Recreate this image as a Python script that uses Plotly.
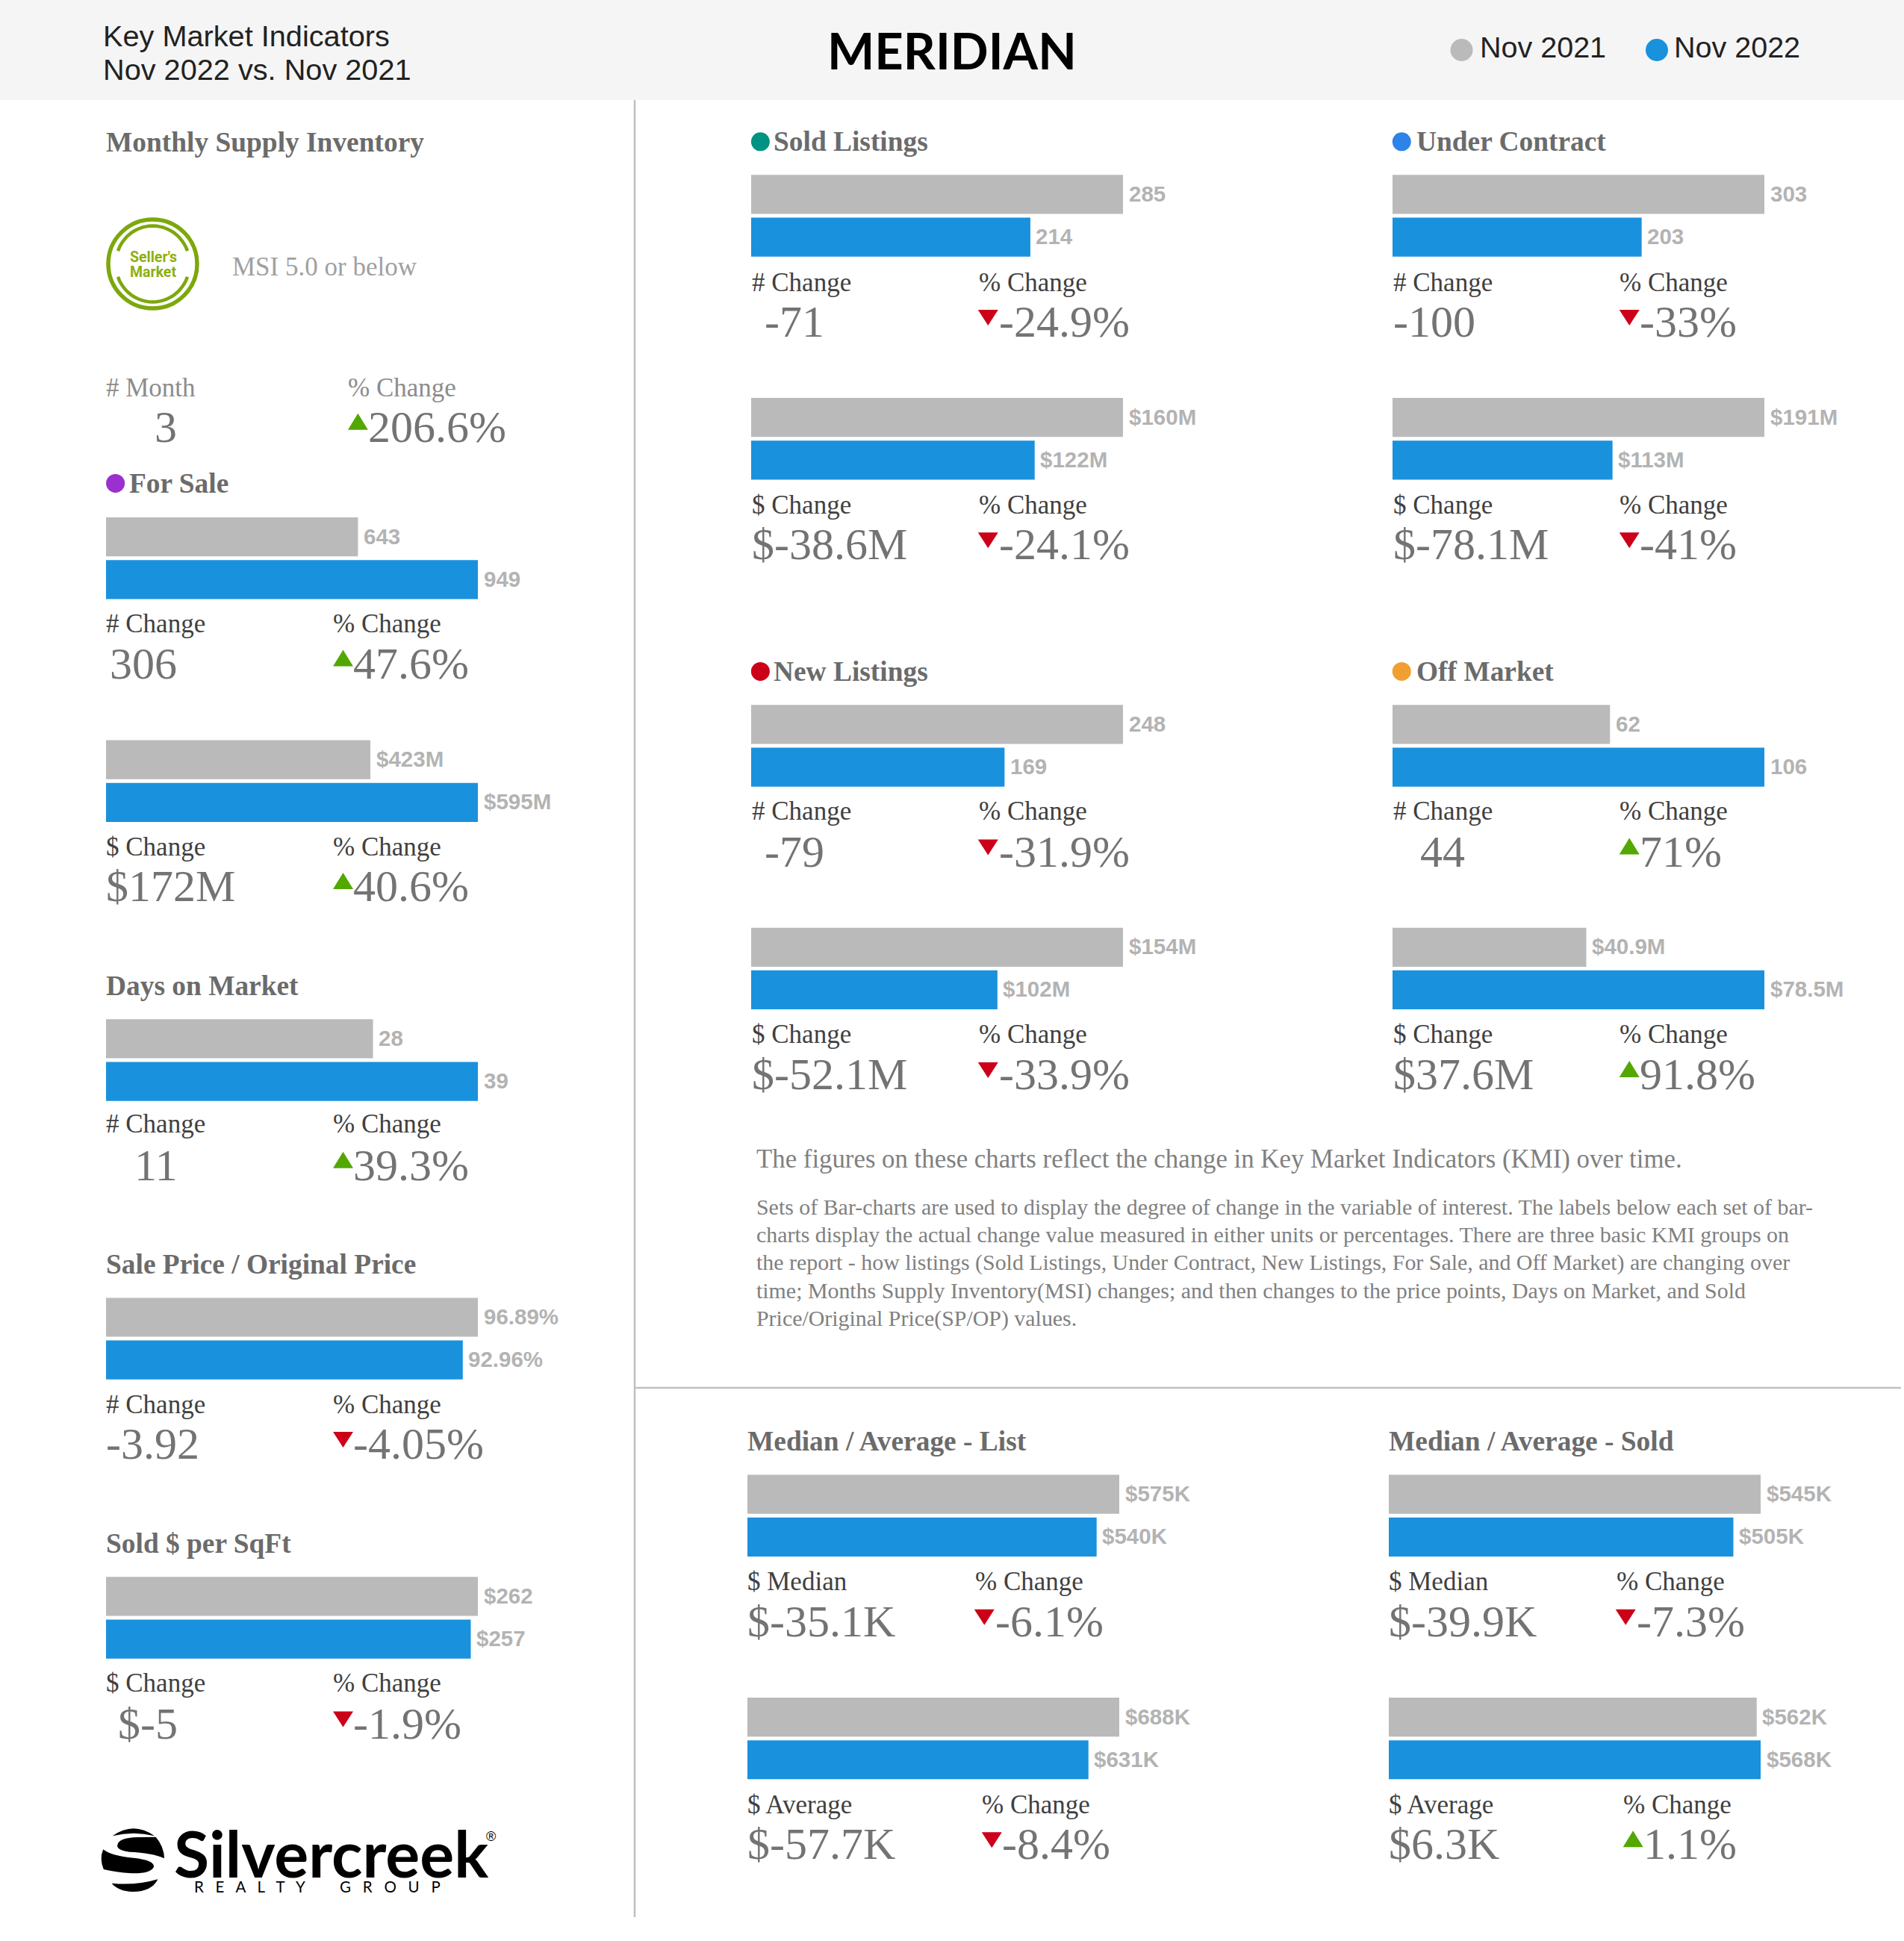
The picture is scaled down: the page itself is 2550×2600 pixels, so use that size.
import numpy as np
import plotly.graph_objects as go

# ---------- data ----------
PERIODS = ["Nov 2021", "Nov 2022"]

FOR_SALE_COUNT = [643, 949]
FOR_SALE_COUNT_LABELS = ["643", "949"]
FOR_SALE_VOLUME = [423, 595]
FOR_SALE_VOLUME_LABELS = ["$423M", "$595M"]
DAYS_ON_MARKET = [28, 39]
DAYS_ON_MARKET_LABELS = ["28", "39"]
SP_OP = [96.89, 92.96]
SP_OP_LABELS = ["96.89%", "92.96%"]
SOLD_PER_SQFT = [262, 257]
SOLD_PER_SQFT_LABELS = ["$262", "$257"]
SOLD_COUNT = [285, 214]
SOLD_COUNT_LABELS = ["285", "214"]
SOLD_VOLUME = [160, 122]
SOLD_VOLUME_LABELS = ["$160M", "$122M"]
UNDER_COUNT = [303, 203]
UNDER_COUNT_LABELS = ["303", "203"]
UNDER_VOLUME = [191, 113]
UNDER_VOLUME_LABELS = ["$191M", "$113M"]
NEW_COUNT = [248, 169]
NEW_COUNT_LABELS = ["248", "169"]
NEW_VOLUME = [154, 102]
NEW_VOLUME_LABELS = ["$154M", "$102M"]
OFF_COUNT = [62, 106]
OFF_COUNT_LABELS = ["62", "106"]
OFF_VOLUME = [40.9, 78.5]
OFF_VOLUME_LABELS = ["$40.9M", "$78.5M"]
LIST_MEDIAN = [575, 540]
LIST_MEDIAN_LABELS = ["$575K", "$540K"]
LIST_AVERAGE = [688, 631]
LIST_AVERAGE_LABELS = ["$688K", "$631K"]
SOLD_MEDIAN = [545, 505]
SOLD_MEDIAN_LABELS = ["$545K", "$505K"]
SOLD_AVERAGE = [562, 568]
SOLD_AVERAGE_LABELS = ["$562K", "$568K"]

NOTE_TITLE = "The figures on these charts reflect the change in Key Market Indicators (KMI) over time."
NOTE_LINES = [
    "Sets of Bar-charts are used to display the degree of change in the variable of interest. The labels below each set of bar-",
    "charts display the actual change value measured in either units or percentages. There are three basic KMI groups on",
    "the report - how listings (Sold Listings, Under Contract, New Listings, For Sale, and Off Market) are changing over",
    "time; Months Supply Inventory(MSI) changes; and then changes to the price points, Days on Market, and Sold",
    "Price/Original Price(SP/OP) values.",
]

# ---------- styles ----------
W, H = 2550, 2600
S = 2550 / 1538
GRAY, BLUE = "#bababa", "#1a91dd"
SERIF, SANS = "Liberation Serif", "Liberation Sans"
C_HEAD, C_LABEL, C_VALUE, C_BAR = "#6b6b6b", "#404040", "#737373", "#b3b3b3"
RED, GREEN = "#cc0018", "#52a800"
BAND, BARW = 57.2, 52.2
WBAR = 498

# (values, labels, left px, gray-bar top in overview units)
PANELS = [
    (FOR_SALE_COUNT, FOR_SALE_COUNT_LABELS, 142, 418),
    (FOR_SALE_VOLUME, FOR_SALE_VOLUME_LABELS, 142, 598),
    (DAYS_ON_MARKET, DAYS_ON_MARKET_LABELS, 142, 823.5),
    (SP_OP, SP_OP_LABELS, 142, 1048.5),
    (SOLD_PER_SQFT, SOLD_PER_SQFT_LABELS, 142, 1274),
    (SOLD_COUNT, SOLD_COUNT_LABELS, 1006, 141.3),
    (SOLD_VOLUME, SOLD_VOLUME_LABELS, 1006, 321.5),
    (UNDER_COUNT, UNDER_COUNT_LABELS, 1865, 141.3),
    (UNDER_VOLUME, UNDER_VOLUME_LABELS, 1865, 321.5),
    (NEW_COUNT, NEW_COUNT_LABELS, 1006, 569.5),
    (NEW_VOLUME, NEW_VOLUME_LABELS, 1006, 749.5),
    (OFF_COUNT, OFF_COUNT_LABELS, 1865, 569.5),
    (OFF_VOLUME, OFF_VOLUME_LABELS, 1865, 749.5),
    (LIST_MEDIAN, LIST_MEDIAN_LABELS, 1001, 1191.5),
    (LIST_AVERAGE, LIST_AVERAGE_LABELS, 1001, 1371.5),
    (SOLD_MEDIAN, SOLD_MEDIAN_LABELS, 1860, 1191.5),
    (SOLD_AVERAGE, SOLD_AVERAGE_LABELS, 1860, 1371.5),
]

fig = go.Figure()
layout = dict(
    width=W, height=H, margin=dict(l=0, r=0, t=0, b=0, pad=0),
    paper_bgcolor="white", plot_bgcolor="rgba(0,0,0,0)",
    showlegend=False, hovermode=False,
    xaxis=dict(domain=[0, 1], range=[0, W], visible=False, fixedrange=True),
    yaxis=dict(domain=[0, 1], range=[H, 0], visible=False, fixedrange=True),
)
annotations, shapes = [], []


def text(x, y, s, size, color, family=SERIF, bold=False, anchor="left"):
    annotations.append(dict(
        x=x - (1.5 if anchor == "left" else 0), y=y, xref="x", yref="y", text=f"<b>{s}</b>" if bold else s,
        showarrow=False, xanchor=anchor, yanchor="middle", align=anchor,
        borderpad=0, font=dict(size=size, color=color, family=family)))


def dot(cx, cy, d, color):
    shapes.append(dict(type="circle", xref="x", yref="y", x0=cx - d / 2, x1=cx + d / 2,
                       y0=cy - d / 2, y1=cy + d / 2, fillcolor=color, line=dict(width=0), layer="below"))


def path(d, fill=None, line=None, lw=0):
    shapes.append(dict(type="path", xref="x", yref="y", path=d, layer="below",
                       fillcolor=fill if fill else "rgba(0,0,0,0)",
                       line=dict(width=lw, color=line if line else "rgba(0,0,0,0)")))


def heading(x, y, s, dot_color=None, gap=18.5):
    if dot_color:
        dot(x * S + 12, y * S, 25, dot_color)
        text((x + gap) * S, y * S, s, 37.4, C_HEAD, bold=True)
    else:
        text(x * S, y * S, s, 37.4, C_HEAD, bold=True)


def metric(label, lx, ly, value, vx, vy, pct_label, px_, pct, up, color=C_LABEL, dl=0.0, dp=0.0):
    # dl / dp: fine horizontal nudges of the left and right text columns, in overview units
    text((lx + dl) * S, ly * S, label, 35, color)
    text((vx + dl) * S, vy * S - 1, value, 60, C_VALUE)
    text((px_ + dp) * S, ly * S, pct_label, 35, color)
    tx, cy = px_ * S, vy * S
    if up:
        path(f"M{tx:.1f},{cy + 3:.1f} L{tx + 27:.1f},{cy + 3:.1f} L{tx + 13.5:.1f},{cy - 19:.1f} Z", fill=GREEN)
    else:
        path(f"M{tx:.1f},{cy - 17:.1f} L{tx + 27:.1f},{cy - 17:.1f} L{tx + 13.5:.1f},{cy + 4:.1f} Z", fill=RED)
    text((px_ + dp) * S + 27, cy - 1, pct, 60, C_VALUE)


# ---------- bars ----------
for i, (vals, labs, left, top) in enumerate(PANELS):
    n = i + 2
    y_top = top * S - (BAND - BARW) / 2
    fig.add_trace(go.Bar(
        x=vals, y=PERIODS, orientation="h", marker=dict(color=[GRAY, BLUE], line=dict(width=0)),
        xaxis=f"x{n}", yaxis=f"y{n}", hoverinfo="skip"))
    layout[f"xaxis{n}"] = dict(domain=[left / W, (left + WBAR) / W], range=[0, max(vals)],
                               visible=False, anchor=f"y{n}", fixedrange=True)
    layout[f"yaxis{n}"] = dict(domain=[1 - (y_top + 2 * BAND) / H, 1 - y_top / H], type="category",
                               categoryorder="array", categoryarray=PERIODS, range=[1.5, -0.5],
                               visible=False, anchor=f"x{n}", fixedrange=True)
    for v, l, p in zip(vals, labs, PERIODS):
        annotations.append(dict(x=v, y=p, xref=f"x{n}", yref=f"y{n}", text=f"<b>{l}</b>", showarrow=False,
                                xanchor="left", yanchor="middle", xshift=6.5, yshift=1, borderpad=0,
                                font=dict(size=29.5, color=C_BAR, family=SANS)))

# ---------- chrome ----------
shapes.append(dict(type="rect", xref="x", yref="y", x0=0, x1=W, y0=0, y1=134, fillcolor="#f5f5f5",
                   line=dict(width=0), layer="below"))
shapes.append(dict(type="line", xref="x", yref="y", x0=850, x1=850, y0=134, y1=2568,
                   line=dict(color="#c0c0c0", width=2.5), layer="below"))
shapes.append(dict(type="line", xref="x", yref="y", x0=850, x1=2546, y0=1859, y1=1859,
                   line=dict(color="#c0c0c0", width=2.5), layer="below"))

text(138, 48, "Key Market Indicators", 39.7, "#222222", SANS)
text(138, 93, "Nov 2022 vs. Nov 2021", 39.7, "#222222", SANS)
annotations.append(dict(x=1275, y=66.5, xref="x", yref="y", text="<b>MERIDIAN</b>", showarrow=False,
                        xanchor="center", yanchor="middle", font=dict(size=67, color="#000000", family="Lato")))
dot(1957.5, 67, 30, GRAY)
text(1982.5, 63, PERIODS[0], 39.5, "#222222", SANS)
dot(2219, 67, 30, BLUE)
text(2242.5, 63, PERIODS[1], 39.5, "#222222", SANS)

# ---------- left column ----------
heading(86, 115, "Monthly Supply Inventory")
GR = "#7ca80c"
dot(204.5, 353.5, 119, "rgba(0,0,0,0)")
shapes[-1]["line"] = dict(color=GR, width=5.5)
for a0, a1 in [(200, 340), (20, 160)]:
    t = np.radians(np.linspace(a0, a1, 25))
    pts = [f"{204.5 + 49.5 * np.cos(v):.1f},{353.5 + 51 * np.sin(v):.1f}" for v in t]
    path("M" + " L".join(pts), line=GR, lw=4.5)
text(205, 344, "Seller's", 19.5, "#8db00f", "Roboto", True, "center")
text(205, 364, "Market", 19.5, "#8db00f", "Roboto", True, "center")
text(188 * S, 215.5 * S, "MSI 5.0 or below", 35, "#a0a0a0")

metric("# Month", 86, 313.3, "3", 125, 345.5, "% Change", 281, "206.6%", True, "#8c8c8c", dp=0.6)
heading(86, 390.5, "For Sale", "#9b30d0")
metric("# Change", 86, 504, "306", 89, 536.5, "% Change", 269, "47.6%", True)
metric("$ Change", 86, 684.5, "$172M", 86, 716.5, "% Change", 269, "40.6%", True)
heading(86, 796.5, "Days on Market")
metric("# Change", 86, 908, "11", 109, 942, "% Change", 269, "39.3%", True)
heading(86, 1021.5, "Sale Price / Original Price")
metric("# Change", 86, 1134.5, "-3.92", 86, 1167, "% Change", 269, "-4.05%", False)
heading(86, 1247, "Sold $ per SqFt")
metric("$ Change", 86, 1360, "$-5", 95.5, 1393, "% Change", 269, "-1.9%", False)

# ---------- right column ----------
heading(607, 114.5, "Sold Listings", "#009282", gap=18)
metric("# Change", 607, 228, "-71", 617, 260.5, "% Change", 790, "-24.9%", False, dl=0.8, dp=0.8)
metric("$ Change", 607, 408, "$-38.6M", 607, 440.5, "% Change", 790, "-24.1%", False, dl=0.8, dp=0.8)
heading(1125, 114.5, "Under Contract", "#2e83e8", gap=19.2)
metric("# Change", 1125, 228, "-100", 1125, 260.5, "% Change", 1308, "-33%", False, dl=0.6, dp=0.8)
metric("$ Change", 1125, 408, "$-78.1M", 1125, 440.5, "% Change", 1308, "-41%", False, dl=0.6, dp=0.8)
heading(607, 542.5, "New Listings", "#cc0018", gap=18)
metric("# Change", 607, 655.5, "-79", 617, 688.5, "% Change", 790, "-31.9%", False, dl=0.8, dp=0.8)
metric("$ Change", 607, 835.5, "$-52.1M", 607, 868.5, "% Change", 790, "-33.9%", False, dl=0.8, dp=0.8)
heading(1125, 542.5, "Off Market", "#f0a030", gap=19.2)
metric("# Change", 1125, 655.5, "44", 1147, 688.5, "% Change", 1308, "71%", True, dl=0.6, dp=0.8)
metric("$ Change", 1125, 835.5, "$37.6M", 1125, 868.5, "% Change", 1308, "91.8%", True, dl=0.6, dp=0.8)

text(611 * S, 936.5 * S, NOTE_TITLE, 34.8, "#808080")
for k, line in enumerate(NOTE_LINES):
    text(611 * S, (975 + 22.55 * k) * S, line, 29.9, "#808080")

heading(604, 1164.5, "Median / Average - List")
metric("$ Median", 604, 1278, "$-35.1K", 604, 1310.5, "% Change", 787, "-6.1%", False, dp=0.8)
metric("$ Average", 604, 1458, "$-57.7K", 604, 1490.5, "% Change", 793, "-8.4%", False, dp=0.6)
heading(1122, 1164.5, "Median / Average - Sold")
metric("$ Median", 1122, 1278, "$-39.9K", 1122, 1310.5, "% Change", 1305, "-7.3%", False, dp=0.8)
metric("$ Average", 1122, 1458, "$6.3K", 1122, 1490.5, "% Change", 1311, "1.1%", True, dp=0.6)

# ---------- logo ----------
def L(zx, zy):
    return f"{zx / 1.845:.1f},{2350 + zy / 3:.1f}"


path(f"M{L(278, 328)} Q{L(330, 268)} {L(382, 328)} Q{L(330, 306)} {L(278, 328)} Z", fill="#000000")
path(f"M{L(290, 365)} Q{L(292, 335)} {L(340, 333)} L{L(385, 332)} Q{L(405, 370)} {L(406, 418)} "
     f"Q{L(375, 395)} {L(320, 392)} Q{L(288, 385)} {L(290, 365)} Z", fill="#000000")
path(f"M{L(255, 382)} Q{L(275, 408)} {L(330, 416)} Q{L(382, 425)} {L(380, 452)} Q{L(372, 480)} {L(325, 478)} "
     f"Q{L(285, 474)} {L(256, 462)} Q{L(245, 420)} {L(255, 382)} Z", fill="#000000")
path(f"M{L(276, 518)} Q{L(335, 528)} {L(390, 502)} Q{L(375, 552)} {L(328, 552)} Q{L(292, 550)} {L(276, 518)} Z",
     fill="#000000")
text(233, 2481, "<b>Silvercreek</b>", 86, "#000000", "Lato")
text(651, 2460, "®", 18, "#000000", SANS)
GAP = "\u00a0" * 3
text(260, 2527, GAP.join("REALTY") + "\u00a0" * 9 + GAP.join("GROUP"), 20.5, "#000000", "Lato")

layout["annotations"] = annotations
layout["shapes"] = shapes
fig.update_layout(**layout)
fig.update_layout(bargap=0.087)
fig.write_html("out.html", post_script="document.body.style.margin='0';", config=dict(displayModeBar=False))
